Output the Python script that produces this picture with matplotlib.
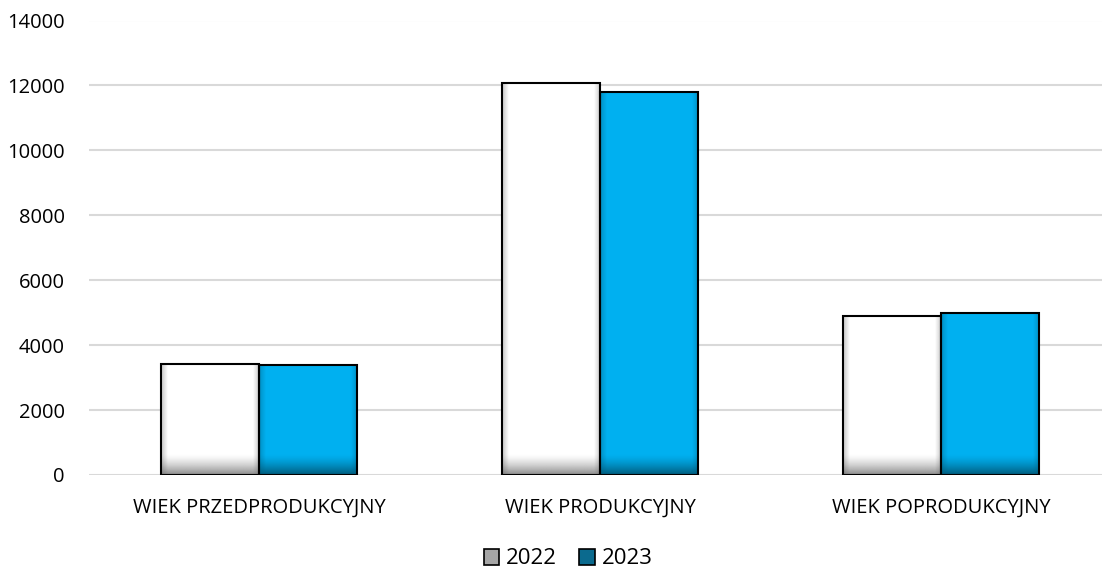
import numpy as np
import matplotlib
matplotlib.use("Agg")
import matplotlib.pyplot as plt
from matplotlib.patches import Patch

# data
categories = ["WIEK PRZEDPRODUKCYJNY", "WIEK PRODUKCYJNY", "WIEK POPRODUKCYJNY"]
series = ["2022", "2023"]
values_2022 = [3420, 12085, 4898]
values_2023 = [3380, 11790, 4990]
yticks = [0, 2000, 4000, 6000, 8000, 10000, 12000, 14000]

plt.rcParams['font.family'] = ['Open Sans', 'DejaVu Sans']

fig = plt.figure(figsize=(11.02, 5.69), dpi=100)
# axes slightly wider than the figure, the gridlines run to the right edge
ax = fig.add_axes([88.5 / 1102, 1 - 475 / 569, 1023 / 1102, 454.5 / 569])

x = np.arange(len(categories))
w = 0.2875

face = ["#ffffff", "#00b0f0"]
shade = ["#8a8a8a", "#005a7a"]
legend_face = ["#a6a6a6", "#0b6a8e"]

def gradient_bar(x0, h, fc, dark):
    ax.bar(x0, h, w, color=fc, edgecolor="none", zorder=2)
    # bottom shading
    rgb = matplotlib.colors.to_rgb(dark)
    n = 64
    img = np.zeros((n, 1, 4))
    img[:, 0, :3] = rgb
    img[:, 0, 3] = np.linspace(1, 0, n) ** 1.4
    gh = 640
    ax.imshow(img, extent=[x0 - w / 2, x0 + w / 2, 0, gh], origin="lower",
              aspect="auto", zorder=3, interpolation="bilinear")
    # faint side shading
    img2 = np.zeros((1, 64, 4))
    img2[0, :, :3] = (0.4, 0.4, 0.4) if fc == "#ffffff" else rgb
    prof = np.maximum(0, 1 - np.minimum(np.arange(64), np.arange(64)[::-1]) / 4.0)
    img2[0, :, 3] = 0.35 * prof
    ax.imshow(img2, extent=[x0 - w / 2, x0 + w / 2, 0, h], origin="lower",
              aspect="auto", zorder=3, interpolation="bilinear")
    ax.bar(x0, h, w, color="none", edgecolor="black", linewidth=1.5, zorder=4)

for i in range(len(categories)):
    gradient_bar(x[i] - w / 2, values_2022[i], face[0], shade[0])
    gradient_bar(x[i] + w / 2, values_2023[i], face[1], shade[1])

ax.set_xlim(-0.5, 2.5)
ax.set_ylim(0, 14000)
ax.set_yticks(yticks)
ax.set_yticklabels([str(t) for t in yticks], fontsize=14.5)
ax.set_xticks(x)
ax.set_xticklabels(categories, fontsize=14.5)
ax.tick_params(axis="both", length=0, colors="black")
ax.tick_params(axis="x", pad=16)
ax.tick_params(axis="y", pad=17)
ax.grid(axis="y", color="#d9d9d9", linewidth=1.5, zorder=0)
ax.set_axisbelow(True)
for s in ax.spines.values():
    s.set_visible(False)

handles = [Patch(facecolor=legend_face[k], edgecolor="black", linewidth=1.2) for k in range(2)]
fig.legend(handles, series, loc="center", bbox_to_anchor=(568 / 1102, 1 - 559 / 569),
           ncol=2, frameon=False, fontsize=16, handlelength=0.7, handleheight=0.7,
           handletextpad=0.3, columnspacing=1.0)

fig.savefig("out.png", dpi=100)
